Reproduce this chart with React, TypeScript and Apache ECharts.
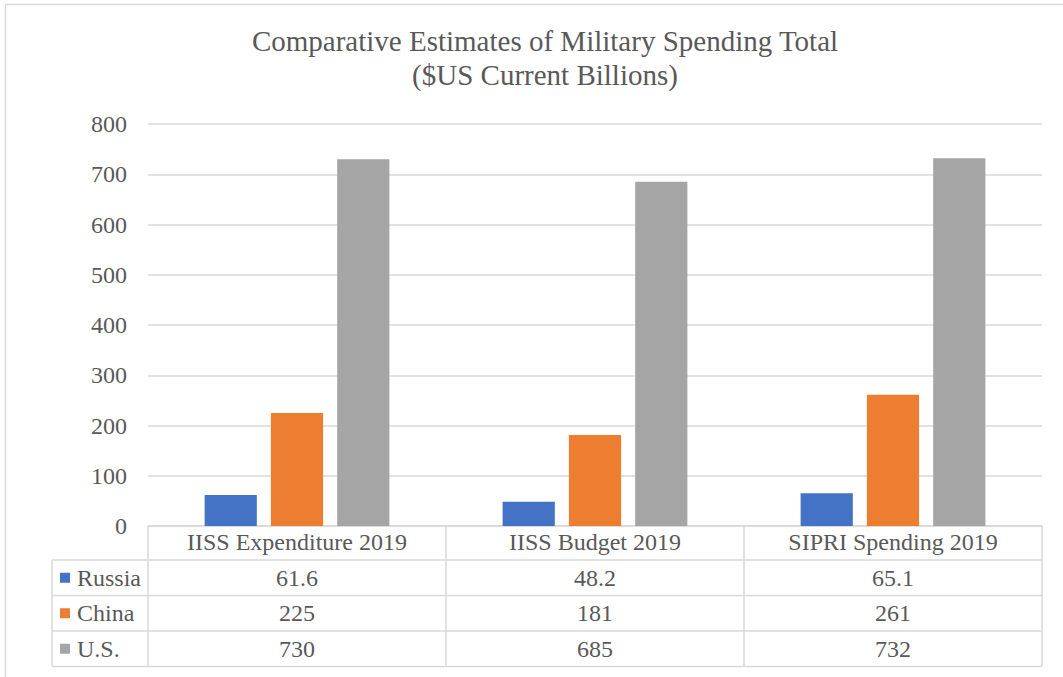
import React, { useEffect, useRef } from "react";
import * as echarts from "echarts";

const categories = ["IISS Expenditure 2019", "IISS Budget 2019", "SIPRI Spending 2019"];
const seriesNames = ["Russia", "China", "U.S."];
const russia = [61.6, 48.2, 65.1];
const china = [225, 181, 261];
const us = [730, 685, 732];
const colors = ["#4472C4", "#ED7D31", "#A5A5A5"];
const titleLines = ["Comparative Estimates of Military Spending Total", "($US Current Billions)"];

const FONT = "'Liberation Serif', 'Times New Roman', serif";
const TEXT = "#595959";
const LINE = "#d9d9d9";

export default function App() {
  const ref = useRef<HTMLDivElement>(null);
  useEffect(() => {
    const el = ref.current!;
    const chart = echarts.init(el, null, { renderer: "svg" });
    const values = [russia, china, us];
    const gridLeft = 148;
    const gridRight = 21;
    const W = 1063;
    const option: any = {
      animation: false,
      textStyle: { fontFamily: FONT },
      title: {
        text: titleLines.join("\n"),
        left: 540,
        top: 19,
        textAlign: "center",
        textStyle: { fontFamily: FONT, fontSize: 29, fontWeight: "normal", color: TEXT, lineHeight: 34 },
      },
      grid: { left: gridLeft, right: gridRight, top: 124, bottom: 151, containLabel: false },
      xAxis: {
        type: "category",
        data: categories,
        axisLine: { show: true, lineStyle: { color: LINE, width: 1.5 } },
        axisTick: { show: true, length: 140, lineStyle: { color: LINE, width: 1.5 } },
        axisLabel: { fontFamily: FONT, fontSize: 24, color: TEXT, margin: 4 },
      },
      yAxis: {
        type: "value",
        min: 0,
        max: 800,
        interval: 100,
        axisLine: { show: false },
        axisTick: { show: false },
        axisLabel: { fontFamily: FONT, fontSize: 24, color: TEXT, margin: 21 },
        splitLine: { lineStyle: { color: LINE, width: 1.5 } },
      },
      series: seriesNames.map((name, i) => ({
        name,
        type: "bar",
        data: values[i],
        barGap: "27%",
        barCategoryGap: "38%",
        itemStyle: { color: colors[i] },
      })),
    };
    chart.setOption(option);

    const axisY = chart.convertToPixel({ yAxisIndex: 0 }, 0) as number;
    const headerH = 34;
    const rowH = 35.5;
    const tableLeft = 52;
    const rightX = W - gridRight;
    const graphic: any[] = [
      {
        type: "rect",
        shape: { x: 5.5, y: 4.5, width: 1100, height: 800 },
        style: { fill: "none", stroke: LINE, lineWidth: 1.5 },
        silent: true,
      },
    ];
    for (let r = 0; r <= seriesNames.length; r++) {
      const y = axisY + headerH + r * rowH;
      graphic.push({
        type: "line",
        shape: { x1: tableLeft, y1: y, x2: rightX, y2: y },
        style: { stroke: LINE, lineWidth: 1.5 },
      });
    }
    graphic.push({
      type: "line",
      shape: { x1: tableLeft, y1: axisY + headerH, x2: tableLeft, y2: axisY + headerH + seriesNames.length * rowH },
      style: { stroke: LINE, lineWidth: 1.5 },
    });
    seriesNames.forEach((name, r) => {
      const cy = axisY + headerH + r * rowH + rowH / 2;
      graphic.push({
        type: "rect",
        shape: { x: 60, y: cy - 5, width: 10, height: 10 },
        style: { fill: colors[r] },
      });
      graphic.push({
        type: "text",
        x: 77,
        y: cy,
        style: { text: name, fontFamily: FONT, fontSize: 24, fill: TEXT, verticalAlign: "middle", align: "left" },
      });
      values[r].forEach((v, c) => {
        const cx = chart.convertToPixel({ xAxisIndex: 0 }, c) as number;
        graphic.push({
          type: "text",
          x: cx,
          y: cy,
          style: { text: String(v), fontFamily: FONT, fontSize: 24, fill: TEXT, verticalAlign: "middle", align: "center" },
        });
      });
    });
    chart.setOption({ graphic });
    return () => chart.dispose();
  }, []);
  return (
    <div
      ref={ref}
      style={{ position: "fixed", left: 0, top: 0, width: 1063, height: 677, background: "#ffffff" }}
    />
  );
}
